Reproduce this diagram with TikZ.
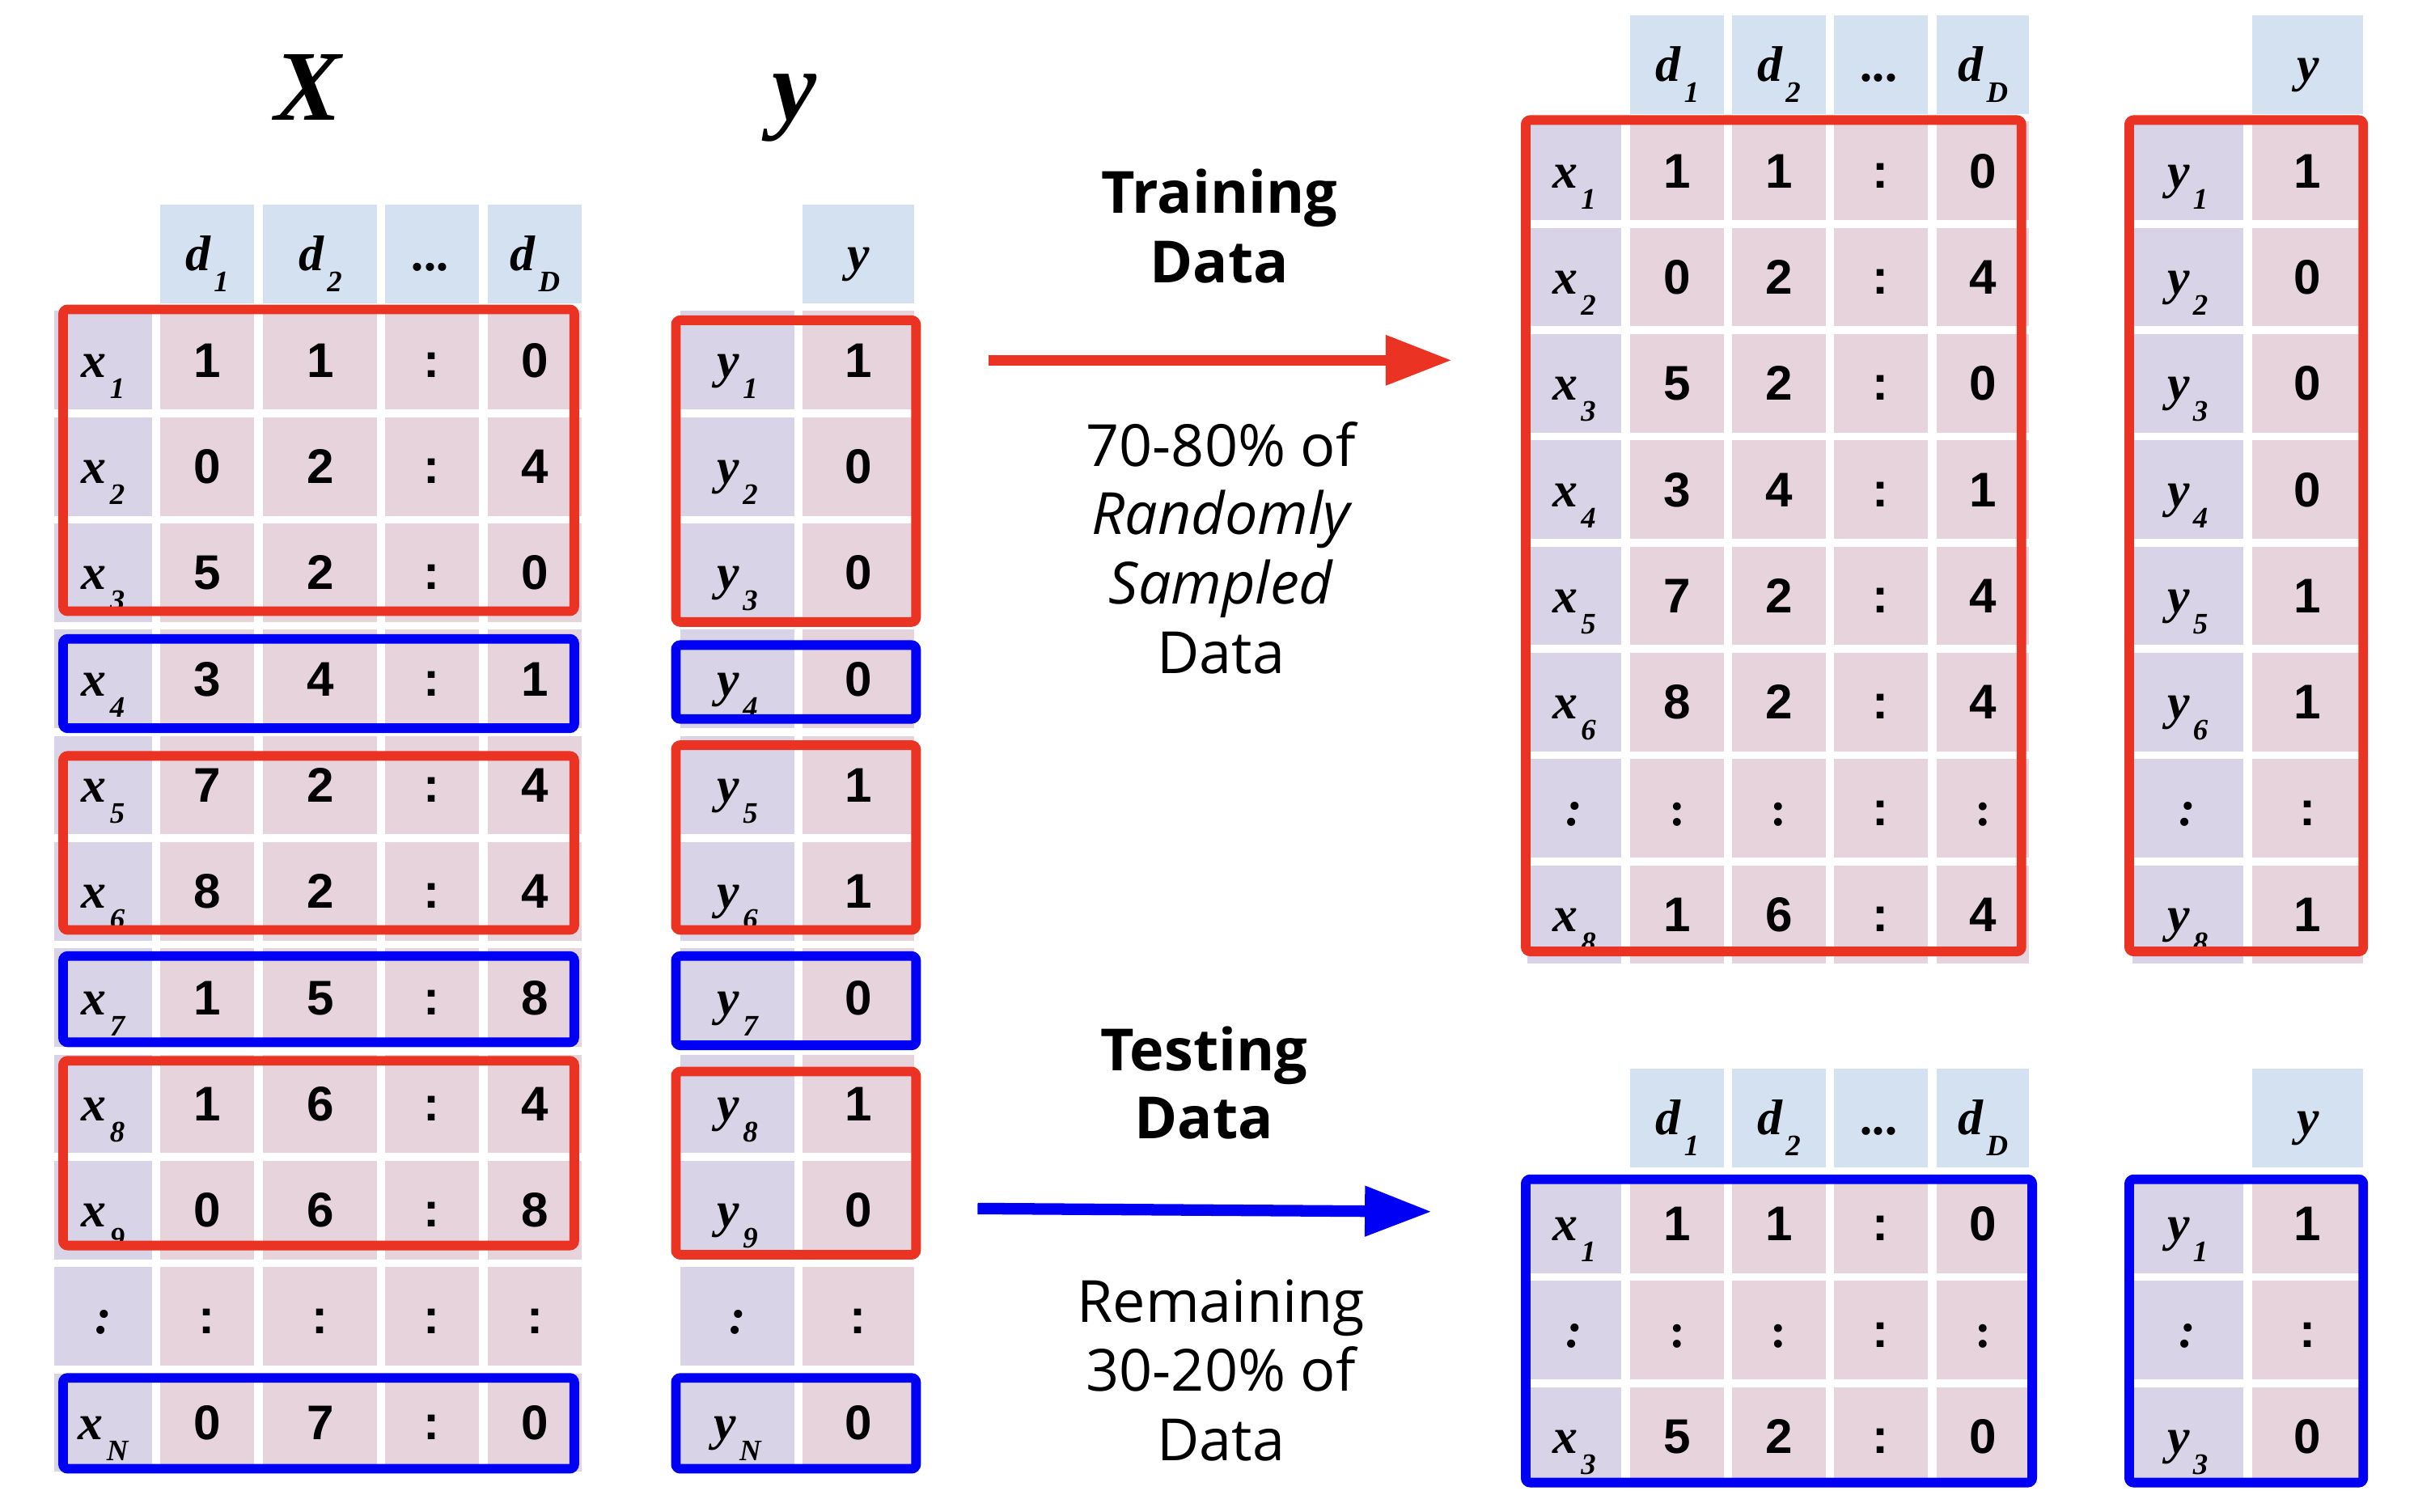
\documentclass[tikz,border=0pt]{standalone}
\usepackage{fontspec}
\setmainfont{Open Sans}
\newfontfamily\tnr{Liberation Serif}
\newfontfamily\arl{Liberation Sans}
\usetikzlibrary{arrows.meta}
\definecolor{hdrc}{RGB}{212,225,240}
\definecolor{labc}{RGB}{216,211,230}
\definecolor{valc}{RGB}{230,211,220}
\definecolor{redb}{RGB}{234,51,35}
\definecolor{blueb}{RGB}{0,0,245}
\newcommand\cellLab{\tnr\bfseries\itshape\fontsize{18.5}{20}\selectfont}
\newcommand\cellNum{\arl\bfseries\fontsize{18}{20}\selectfont}
\newcommand\cellDot{\tnr\bfseries\fontsize{18}{20}\selectfont}
\newcommand\sbs[2]{#1\kern0.07em\raisebox{-0.42em}{\fontsize{11}{12}\selectfont #2}}
\tikzset{
  cellsty/.style={rectangle, inner sep=0pt, minimum height=1.28cm, text height=0.44cm, text depth=0pt},
  redbox/.style={draw=redb, line width=0.125cm, rounded corners=0.06cm},
  bluebox/.style={draw=blueb, line width=0.125cm, rounded corners=0.06cm},
  bigtitle/.style={anchor=base, font=\tnr\bfseries\itshape\fontsize{37}{40}\selectfont},
  boldlbl/.style={anchor=base, font=\bfseries\fontsize{21.5}{24}\selectfont},
  plainlbl/.style={anchor=base, font=\fontsize{21.5}{24}\selectfont},
  itlbl/.style={anchor=base, font=\itshape\fontsize{21.5}{24}\selectfont},
  redarrow/.style={draw=redb, line width=0.14cm, -{Triangle[length=0.86cm,width=0.62cm]}},
  bluearrow/.style={draw=blueb, line width=0.15cm, -{Triangle[length=0.87cm,width=0.62cm]}}
}
\newcommand\cellbox[6]{\node[cellsty,fill=#5,minimum width={(#3-#2)*0.02cm}] (#1) at ({(#2+#3)/2},{#4+32}) {#6};}
% left X table row
\newcommand\rowL[7]{%
 \cellbox{L#1-0}{35}{99}{#2}{labc}{\cellLab #3}%
 \cellbox{L#1-1}{104}{165}{#2}{valc}{\cellNum #4}%
 \cellbox{L#1-2}{171}{245}{#2}{valc}{\cellNum #5}%
 \cellbox{L#1-3}{250}{311}{#2}{valc}{\cellNum #6}%
 \cellbox{L#1-4}{317}{378}{#2}{valc}{\cellNum #7}}
\newcommand\rowLy[4]{%
 \cellbox{LY#1-0}{442}{516}{#2}{labc}{\cellLab #3}%
 \cellbox{LY#1-1}{521}{594}{#2}{valc}{\cellNum #4}}
% right tables
\newcommand\rowR[7]{%
 \cellbox{#1-0}{992}{1053}{#2}{labc}{\cellLab #3}%
 \cellbox{#1-1}{1059}{1120}{#2}{valc}{\cellNum #4}%
 \cellbox{#1-2}{1125}{1186}{#2}{valc}{\cellNum #5}%
 \cellbox{#1-3}{1191}{1252}{#2}{valc}{\cellNum #6}%
 \cellbox{#1-4}{1258}{1318}{#2}{valc}{\cellNum #7}}
\newcommand\rowRy[4]{%
 \cellbox{#1-0}{1385}{1457}{#2}{labc}{\cellLab #3}%
 \cellbox{#1-1}{1463}{1535}{#2}{valc}{\cellNum #4}}
\begin{document}
\begin{tikzpicture}[x=0.02cm,y=-0.02cm]
\useasboundingbox[fill=white] (0,0) rectangle (1568,982);

% ---------- titles ----------
\node[bigtitle] (tX) at (200,78) {X};
\node[bigtitle] (tY) at (516,78) {y};

% ---------- left X table ----------
\cellbox{LH1}{104}{165}{133}{hdrc}{\cellLab\sbs{d}{1}}
\cellbox{LH2}{171}{245}{133}{hdrc}{\cellLab\sbs{d}{2}}
\cellbox{LH3}{250}{311}{133}{hdrc}{\cellLab ...}
\cellbox{LH4}{317}{378}{133}{hdrc}{\cellLab\sbs{d}{D}}
\rowL{1}{202}{\sbs{x}{1}}{1}{1}{:}{0}
\rowL{2}{271}{\sbs{x}{2}}{0}{2}{:}{4}
\rowL{3}{340}{\sbs{x}{3}}{5}{2}{:}{0}
\rowL{4}{409}{\sbs{x}{4}}{3}{4}{:}{1}
\rowL{5}{478}{\sbs{x}{5}}{7}{2}{:}{4}
\rowL{6}{547}{\sbs{x}{6}}{8}{2}{:}{4}
\rowL{7}{616}{\sbs{x}{7}}{1}{5}{:}{8}
\rowL{8}{685}{\sbs{x}{8}}{1}{6}{:}{4}
\rowL{9}{754}{\sbs{x}{9}}{0}{6}{:}{8}
\rowL{10}{823}{:}{:}{:}{:}{:}
\rowL{11}{892}{\sbs{x}{N}}{0}{7}{:}{0}

% ---------- left y table ----------
\cellbox{LYH}{521}{594}{133}{hdrc}{\cellLab y}
\rowLy{1}{202}{\sbs{y}{1}}{1}
\rowLy{2}{271}{\sbs{y}{2}}{0}
\rowLy{3}{340}{\sbs{y}{3}}{0}
\rowLy{4}{409}{\sbs{y}{4}}{0}
\rowLy{5}{478}{\sbs{y}{5}}{1}
\rowLy{6}{547}{\sbs{y}{6}}{1}
\rowLy{7}{616}{\sbs{y}{7}}{0}
\rowLy{8}{685}{\sbs{y}{8}}{1}
\rowLy{9}{754}{\sbs{y}{9}}{0}
\rowLy{10}{823}{:}{:}
\rowLy{11}{892}{\sbs{y}{N}}{0}

% ---------- left boxes ----------
\draw[redbox]  (41,201) rectangle (373,397);
\draw[bluebox] (41,415) rectangle (373,473);
\draw[redbox]  (41,491) rectangle (373,604);
\draw[bluebox] (41,621) rectangle (373,677);
\draw[redbox]  (41,689) rectangle (373,809);
\draw[bluebox] (41,895) rectangle (373,954);
\draw[redbox]  (439,208) rectangle (595,404);
\draw[bluebox] (439,419) rectangle (595,467);
\draw[redbox]  (439,484) rectangle (595,604);
\draw[bluebox] (439,621) rectangle (595,679);
\draw[redbox]  (439,696) rectangle (595,815);
\draw[bluebox] (439,895) rectangle (595,954);

% ---------- training table ----------
\cellbox{TRH1}{1059}{1120}{10}{hdrc}{\cellLab\sbs{d}{1}}
\cellbox{TRH2}{1125}{1186}{10}{hdrc}{\cellLab\sbs{d}{2}}
\cellbox{TRH3}{1191}{1252}{10}{hdrc}{\cellLab ...}
\cellbox{TRH4}{1258}{1318}{10}{hdrc}{\cellLab\sbs{d}{D}}
\rowR{TR1}{79}{\sbs{x}{1}}{1}{1}{:}{0}
\rowR{TR2}{148}{\sbs{x}{2}}{0}{2}{:}{4}
\rowR{TR3}{217}{\sbs{x}{3}}{5}{2}{:}{0}
\rowR{TR4}{286}{\sbs{x}{4}}{3}{4}{:}{1}
\rowR{TR5}{355}{\sbs{x}{5}}{7}{2}{:}{4}
\rowR{TR6}{424}{\sbs{x}{6}}{8}{2}{:}{4}
\rowR{TR7}{493}{:}{\cellDot :}{\cellDot :}{:}{\cellDot :}
\rowR{TR8}{562}{\sbs{x}{8}}{1}{6}{:}{4}
\cellbox{TRYH}{1463}{1535}{10}{hdrc}{\cellLab y}
\rowRy{TRY1}{79}{\sbs{y}{1}}{1}
\rowRy{TRY2}{148}{\sbs{y}{2}}{0}
\rowRy{TRY3}{217}{\sbs{y}{3}}{0}
\rowRy{TRY4}{286}{\sbs{y}{4}}{0}
\rowRy{TRY5}{355}{\sbs{y}{5}}{1}
\rowRy{TRY6}{424}{\sbs{y}{6}}{1}
\rowRy{TRY7}{493}{:}{:}
\rowRy{TRY8}{562}{\sbs{y}{8}}{1}
\draw[redbox] (991,78) rectangle (1313,618);
\draw[redbox] (1383,78) rectangle (1535,618);

% ---------- testing table ----------
\cellbox{TEH1}{1059}{1120}{694}{hdrc}{\cellLab\sbs{d}{1}}
\cellbox{TEH2}{1125}{1186}{694}{hdrc}{\cellLab\sbs{d}{2}}
\cellbox{TEH3}{1191}{1252}{694}{hdrc}{\cellLab ...}
\cellbox{TEH4}{1258}{1318}{694}{hdrc}{\cellLab\sbs{d}{D}}
\rowR{TE1}{763}{\sbs{x}{1}}{1}{1}{:}{0}
\rowR{TE2}{832}{:}{\cellDot :}{\cellDot :}{:}{\cellDot :}
\rowR{TE3}{901}{\sbs{x}{3}}{5}{2}{:}{0}
\cellbox{TEYH}{1463}{1535}{694}{hdrc}{\cellLab y}
\rowRy{TEY1}{763}{\sbs{y}{1}}{1}
\rowRy{TEY2}{832}{:}{:}
\rowRy{TEY3}{901}{\sbs{y}{3}}{0}
\draw[bluebox] (991,766) rectangle (1320,963);
\draw[bluebox] (1383,766) rectangle (1535,963);

% ---------- arrows ----------
\coordinate (ra1) at (642,234);
\coordinate (ra2) at (943,234);
\draw[redarrow] (ra1) -- (ra2);
\coordinate (ba1) at (635,785);
\coordinate (ba2) at (930,787);
\draw[bluearrow] (ba1) -- (ba2);

% ---------- labels ----------
\node[boldlbl] (tr1) at (792,138.6) {Training};
\node[boldlbl] (tr2) at (792,183.6) {Data};
\node[plainlbl] (tr3) at (793,302.7) {70-80\% of};
\node[itlbl] (tr4) at (793,347) {Randomly};
\node[itlbl] (tr5) at (793,392.4) {Sampled};
\node[plainlbl] (tr6) at (793,437.4) {Data};
\node[boldlbl] (te1) at (782,695.5) {Testing};
\node[boldlbl] (te2) at (782,739.6) {Data};
\node[plainlbl] (te3) at (793,859) {Remaining};
\node[plainlbl] (te4) at (793,903.7) {30-20\% of};
\node[plainlbl] (te5) at (793,948.5) {Data};
\end{tikzpicture}
\end{document}
